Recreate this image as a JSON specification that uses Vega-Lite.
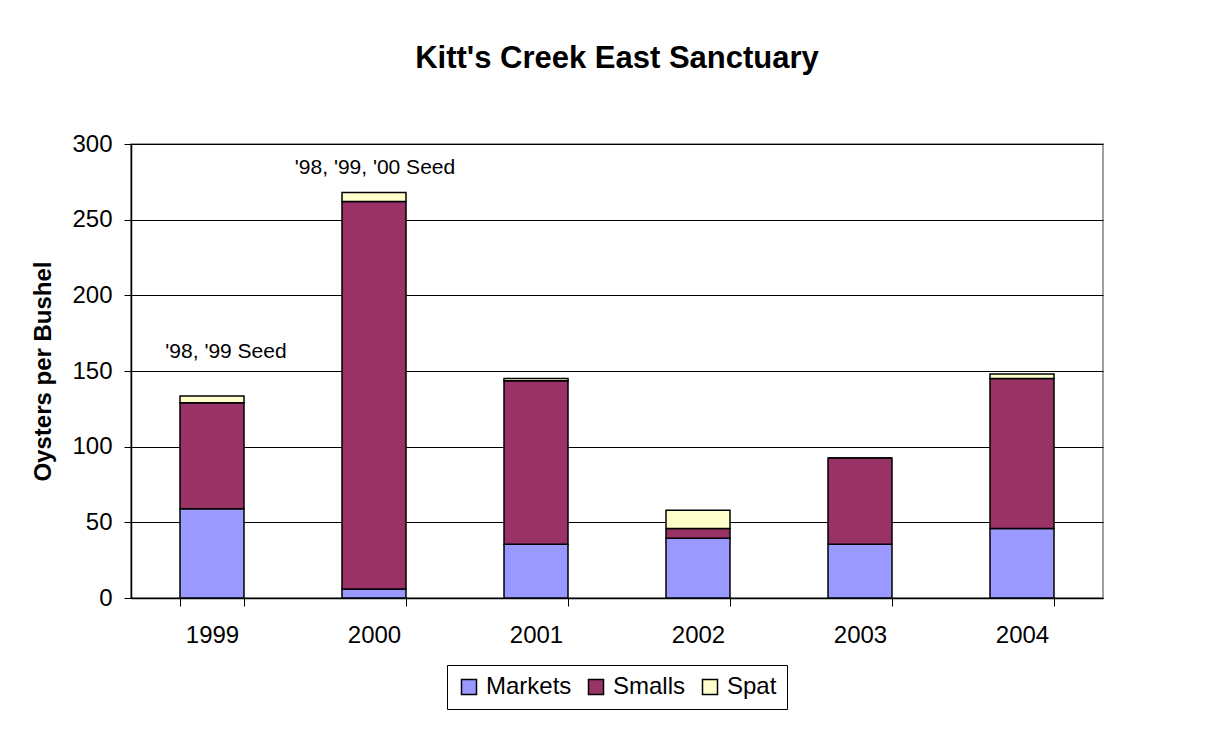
{
  "$schema": "https://vega.github.io/schema/vega-lite/v6.json",
  "width": 972,
  "height": 454,
  "autosize": {"type": "none"},
  "padding": {"left": 131, "top": 144, "right": 128, "bottom": 132},
  "background": "white",
  "config": {
    "font": "Liberation Sans",
    "view": {"stroke": "#808080", "strokeWidth": 1.5}
  },
  "title": {
    "text": "Kitt's Creek East Sanctuary",
    "font": "Liberation Sans",
    "fontSize": 31,
    "fontWeight": "bold",
    "color": "black",
    "anchor": "middle",
    "offset": 57
  },
  "datasets": {
    "counts": [
      {"year": "1999", "size": "Markets", "rank": 1, "oysters": 59},
      {"year": "1999", "size": "Smalls", "rank": 2, "oysters": 70},
      {"year": "1999", "size": "Spat", "rank": 3, "oysters": 4.5},
      {"year": "2000", "size": "Markets", "rank": 1, "oysters": 6},
      {"year": "2000", "size": "Smalls", "rank": 2, "oysters": 256},
      {"year": "2000", "size": "Spat", "rank": 3, "oysters": 6},
      {"year": "2001", "size": "Markets", "rank": 1, "oysters": 35.5},
      {"year": "2001", "size": "Smalls", "rank": 2, "oysters": 108},
      {"year": "2001", "size": "Spat", "rank": 3, "oysters": 1.5},
      {"year": "2002", "size": "Markets", "rank": 1, "oysters": 39.5},
      {"year": "2002", "size": "Smalls", "rank": 2, "oysters": 6.5},
      {"year": "2002", "size": "Spat", "rank": 3, "oysters": 12},
      {"year": "2003", "size": "Markets", "rank": 1, "oysters": 35.5},
      {"year": "2003", "size": "Smalls", "rank": 2, "oysters": 57},
      {"year": "2003", "size": "Spat", "rank": 3, "oysters": 0},
      {"year": "2004", "size": "Markets", "rank": 1, "oysters": 46},
      {"year": "2004", "size": "Smalls", "rank": 2, "oysters": 99},
      {"year": "2004", "size": "Spat", "rank": 3, "oysters": 3}
    ],
    "notes": [
      {"year": "1999", "at": 162.5, "label": "'98, '99 Seed"},
      {"year": "2000", "at": 284, "label": "'98, '99, '00 Seed"}
    ]
  },
  "layer": [
    {
      "data": {"name": "counts"},
      "mark": {"type": "bar", "stroke": "black", "strokeWidth": 1.5},
      "encoding": {
        "x": {
          "field": "year",
          "type": "ordinal",
          "sort": null,
          "scale": {"paddingInner": 0.605, "paddingOuter": 0.3025},
          "axis": {
            "title": null,
            "labelAngle": 0,
            "labelFontSize": 24,
            "labelColor": "black",
            "labelPadding": 17,
            "tickBand": "extent",
            "tickSize": 8,
            "tickColor": "black",
            "domainColor": "black",
            "domainWidth": 1.5
          }
        },
        "y": {
          "field": "oysters",
          "type": "quantitative",
          "stack": "zero",
          "scale": {"domain": [0, 300], "nice": false},
          "axis": {
            "title": "Oysters per Bushel",
            "titleFontSize": 24,
            "titleFontWeight": "bold",
            "titleColor": "black",
            "titlePadding": 16,
            "values": [0, 50, 100, 150, 200, 250, 300],
            "labelFontSize": 24,
            "labelColor": "black",
            "labelPadding": 12,
            "tickSize": 7,
            "tickColor": "black",
            "domainColor": "black",
            "domainWidth": 1.5,
            "grid": true,
            "gridColor": "black",
            "gridWidth": 1
          }
        },
        "color": {
          "field": "size",
          "type": "nominal",
          "scale": {
            "domain": ["Markets", "Smalls", "Spat"],
            "range": ["#9999FF", "#993366", "#FFFFCC"]
          },
          "legend": {
            "title": null,
            "orient": "none",
            "direction": "horizontal",
            "legendX": 316,
            "legendY": 521,
            "strokeColor": "black",
            "padding": 10,
            "symbolType": "square",
            "symbolSize": 225,
            "symbolStrokeColor": "black",
            "symbolStrokeWidth": 1.5,
            "symbolOpacity": 1,
            "labelFontSize": 24,
            "labelColor": "black",
            "labelOffset": 5,
            "columnPadding": 12
          }
        },
        "order": {"field": "rank", "type": "quantitative"}
      }
    },
    {
      "data": {"name": "notes"},
      "transform": [{"filter": "datum.year === '1999'"}],
      "mark": {
        "type": "text",
        "fontSize": 21,
        "color": "black",
        "align": "center",
        "baseline": "middle",
        "dx": 14
      },
      "encoding": {
        "x": {"field": "year", "type": "ordinal", "sort": null},
        "y": {"field": "at", "type": "quantitative"},
        "text": {"field": "label"}
      }
    },
    {
      "data": {"name": "notes"},
      "transform": [{"filter": "datum.year === '2000'"}],
      "mark": {
        "type": "text",
        "fontSize": 21,
        "color": "black",
        "align": "center",
        "baseline": "middle",
        "dx": 1
      },
      "encoding": {
        "x": {"field": "year", "type": "ordinal", "sort": null},
        "y": {"field": "at", "type": "quantitative"},
        "text": {"field": "label"}
      }
    }
  ]
}
